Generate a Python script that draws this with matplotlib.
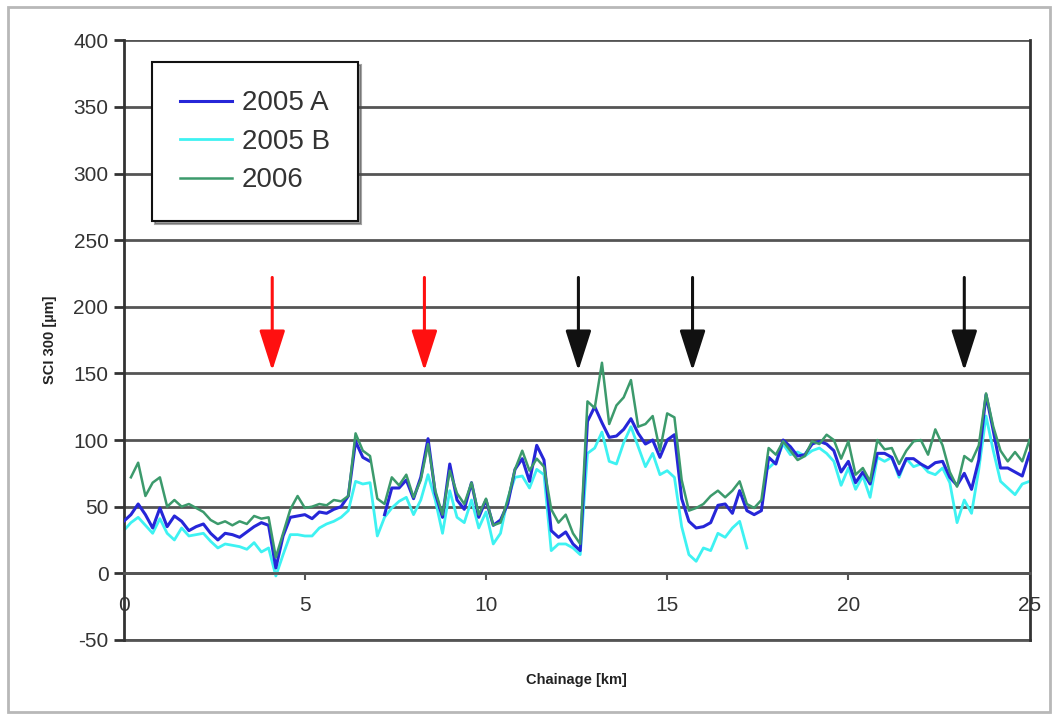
import numpy as np
import matplotlib
matplotlib.use("Agg")
import matplotlib.pyplot as plt
from matplotlib.patches import Rectangle

plt.rcParams['font.family'] = ['Liberation Sans', 'DejaVu Sans']
plt.rcParams['axes.unicode_minus'] = False

# chainage grid [km], every 0.2 km
chainage = np.round(np.arange(0, 25.01, 0.2), 1)

sci_2005a = [39, 44, 52, 44, 34, 49, 35, 43, 39, 32,
             35, 37, 30, 25, 30, 29, 27, 31, 35, 38,
             36, 4, 28, 42, 43, 44, 41, 46, 45, 48,
             50, 58, 99, 87, 84, np.nan, 44, 64, 64, 70,
             56, 72, 101, 60, 42, 82, 55, 48, 68, 42,
             55, 36, 40, 52, 78, 86, 69, 96, 85, 32,
             27, 31, 22, 17, 114, 125, 113, 102, 103, 108,
             116, 105, 97, 100, 87, 100, 104, 56, 39, 34,
             35, 38, 51, 52, 45, 62, 47, 44, 47, 87,
             82, 100, 95, 88, 89, 97, 99, 97, 92, 76,
             84, 68, 76, 67, 90, 90, 87, 74, 86, 86,
             82, 79, 83, 84, 72, 66, 75, 63, 85, 134,
             107, 79, 79, 76, 73, 90]

sci_2005b = [32, 38, 42, 36, 30, 41, 30, 25, 34, 28,
             29, 30, 24, 19, 22, 21, 20, 18, 23, 16,
             19, -2, 14, 29, 29, 28, 28, 34, 37, 39,
             42, 47, 69, 67, 68, 28, 42, 49, 54, 57,
             44, 55, 74, 55, 30, 62, 42, 38, 55, 34,
             46, 22, 30, 56, 72, 73, 64, 78, 74, 17,
             22, 22, 19, 14, 90, 94, 106, 84, 82, 98,
             110, 95, 80, 90, 74, 77, 72, 35, 14, 9,
             19, 17, 30, 27, 34, 39, 19, np.nan, np.nan, 79,
             84, 97, 89, 91, 88, 92, 94, 90, 84, 66,
             79, 63, 73, 57, 87, 84, 87, 72, 86, 80,
             82, 76, 74, 79, 68, 38, 55, 45, 78, 118,
             92, 69, 64, 59, 67, 69]

sci_2006 = [np.nan, 72, 83, 58, 68, 72, 50, 55, 50, 52,
            49, 46, 40, 37, 39, 36, 39, 37, 43, 41,
            42, 12, 30, 48, 58, 49, 50, 52, 51, 55,
            54, 58, 105, 92, 88, 56, 52, 72, 66, 74,
            57, 70, 97, 62, 44, 77, 60, 52, 68, 44,
            56, 36, 38, 55, 78, 92, 77, 86, 80, 48,
            38, 44, 30, 22, 129, 124, 158, 112, 126, 132,
            145, 110, 112, 118, 92, 120, 117, 70, 47, 49,
            52, 58, 62, 57, 62, 69, 52, 49, 55, 94,
            89, 99, 92, 85, 88, 99, 97, 104, 100, 86,
            99, 74, 79, 69, 100, 93, 94, 82, 92, 99,
            100, 89, 108, 96, 76, 65, 88, 84, 96, 135,
            110, 92, 84, 91, 84, 100]

arrow_km = [4.1, 8.3, 12.55, 15.7, 23.2]
arrow_colors = ['#ff1010', '#ff1010', '#111111', '#111111', '#111111']

fig = plt.figure(figsize=(10.57, 7.19), dpi=100)
fig.patches.append(Rectangle((0.008, 0.01), 0.985, 0.98, transform=fig.transFigure,
                             fill=False, edgecolor='#b8b8b8', linewidth=2))
ax = fig.add_axes([0.117, 0.110, 0.857, 0.834])

ax.plot(chainage, sci_2005a, color='#2626d8', linewidth=2.2, label='2005 A', zorder=3)
ax.plot(chainage, sci_2005b, color='#3ef2f2', linewidth=2.0, label='2005 B', zorder=2)
ax.plot(chainage, sci_2006, color='#3c9a6c', linewidth=1.8, label='2006', zorder=4)

for xk, c in zip(arrow_km, arrow_colors):
    ax.annotate('', xy=(xk, 152), xytext=(xk, 222),
                arrowprops=dict(arrowstyle='-|>,head_length=2.5,head_width=0.8',
                                color=c, linewidth=2.2, shrinkA=0, shrinkB=0))

ax.set_xlim(0, 25)
ax.set_ylim(-50, 400)
ax.set_yticks(np.arange(-50, 401, 50))
ax.set_xticks(np.arange(0, 26, 5))
ax.yaxis.grid(True, color='#555555', linewidth=2)
ax.axhline(-50, color='#555555', linewidth=2, clip_on=False, zorder=1)
ax.set_axisbelow(True)

ax.spines['bottom'].set_position(('data', 0))
ax.spines['bottom'].set_color('#555555')
ax.spines['bottom'].set_linewidth(2)
ax.spines['top'].set_visible(False)
ax.spines['left'].set_linewidth(2)
ax.spines['right'].set_linewidth(2)
ax.spines['left'].set_color('#333333')
ax.spines['right'].set_color('#333333')

ax.tick_params(axis='y', direction='out', length=7, width=2, color='#333333',
               labelsize=15, labelcolor='#333333', pad=4)
ax.tick_params(axis='x', direction='out', length=5, width=1.5, color='#555555',
               labelsize=15, labelcolor='#333333', pad=11)

ax.set_xlabel('Chainage [km]', fontsize=10.5, fontweight='bold', color='#222222')
ax.set_ylabel('SCI 300 [µm]', fontsize=10.5, fontweight='bold', color='#222222', labelpad=12)
ax.xaxis.set_label_coords(0.5, -0.055)

leg = ax.legend(loc='upper left', bbox_to_anchor=(0.031, 0.963), fontsize=20,
                frameon=True, fancybox=False, shadow=True, edgecolor='#111111',
                handlelength=1.9, labelspacing=0.45, borderpad=1.0, handletextpad=0.35,
                borderaxespad=0)
leg.get_frame().set_linewidth(1.5)
for t in leg.get_texts():
    t.set_color('#333333')

fig.savefig('out.png', dpi=100, facecolor='white')
